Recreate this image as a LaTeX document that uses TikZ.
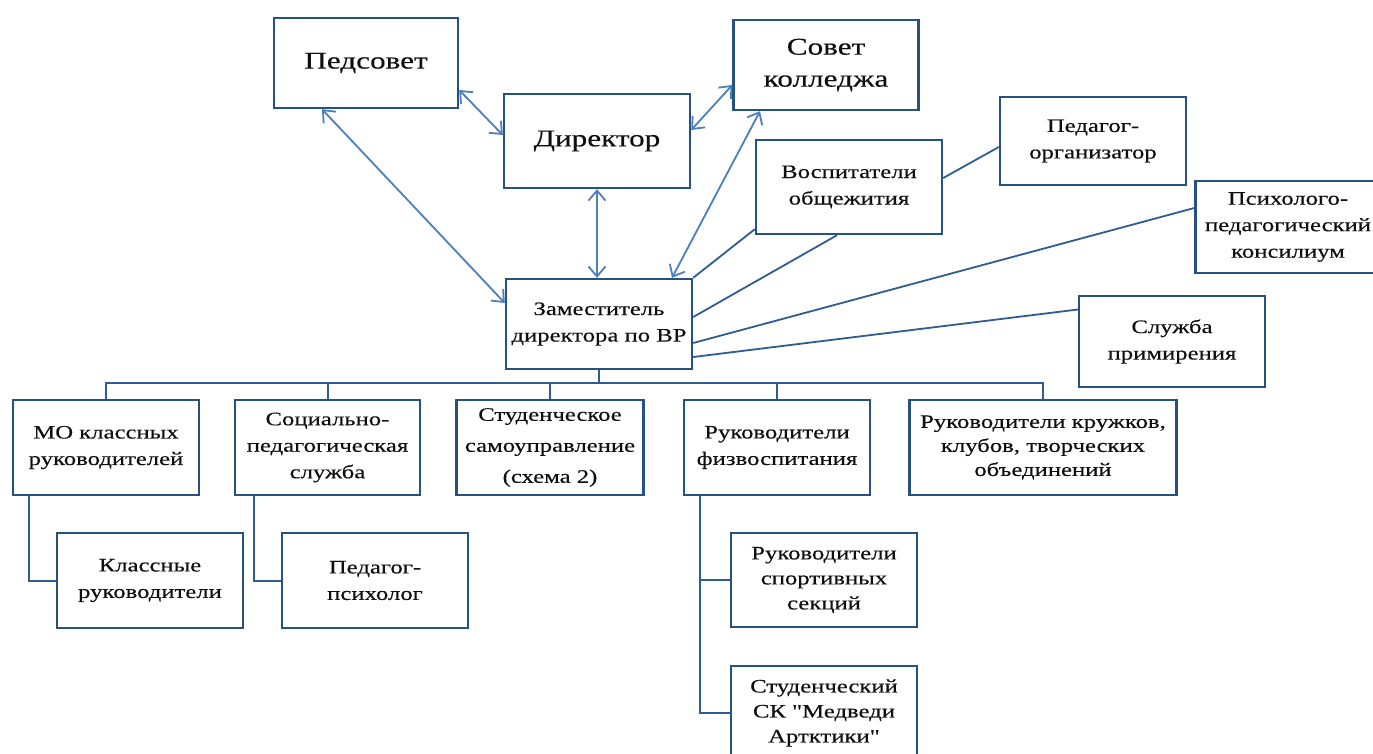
\documentclass[tikz,border=0pt]{standalone}
\usepackage{fontspec}
\setmainfont{Liberation Serif}[FakeStretch=1.3,FakeBold=0.3,Ligatures=TeXOff]
\usetikzlibrary{arrows.meta,calc}
\definecolor{boxc}{RGB}{38,82,130}
\definecolor{linec}{RGB}{75,128,188}
\definecolor{treec}{RGB}{48,92,145}
\definecolor{txt}{RGB}{15,15,15}
\begin{document}
\begin{tikzpicture}[x=1pt,y=-1pt,
  box/.style={draw=boxc,line width=2.4pt,align=center,inner sep=2pt,text=txt,fill=white},
  bigt/.style={font=\fontsize{24}{32}\selectfont},
  smallt/.style={font=\fontsize{19}{26.5}\selectfont},
  arr/.style={draw=linec,line width=1.8pt,{Straight Barb[length=10pt,width=17pt]}-{Straight Barb[length=10pt,width=17pt]}},
  lnk/.style={draw=treec,line width=1.8pt},
  tree/.style={draw=treec,line width=2pt}]
\useasboundingbox (0,0) rectangle (1373,753);
\clip (0,0) rectangle (1373,753);
\fill[white] (0,0) rectangle (1373,753);

% top boxes
\node[box,bigt,minimum width=184,minimum height=90] (ped) at (366,63) {Педсовет};
\node[box,bigt,minimum width=186,minimum height=94] (dir) at (597,141) {Директор};
\node[box,bigt,minimum width=185,minimum height=90] (sov) at (826,65) {Совет\\колледжа};
\node[box,smallt,minimum width=186,minimum height=94] (vos) at (849,187) {Воспитатели\\общежития};
\node[box,smallt,minimum width=186,minimum height=88] (org) at (1093,141) {Педагог-\\организатор};
\node[box,smallt,minimum width=185,minimum height=92] (psy) at (1288,227) {Психолого-\\педагогический\\консилиум};
\node[box,smallt,minimum width=186,minimum height=91] (slu) at (1172,341.5) {Служба\\примирения};
\node[box,smallt,minimum width=186,minimum height=90] (zam) at (599,324) {Заместитель\\директора по ВР};

% bottom row
\node[box,smallt,minimum width=186,minimum height=95] (mo) at (106,447.5) {МО классных\\руководителей};
\node[box,smallt,minimum width=185,minimum height=95] (soc) at (327.5,447.5) {Социально-\\педагогическая\\служба};
\node[box,smallt,minimum width=187,minimum height=95,font=\fontsize{19}{31}\selectfont] (stu) at (550,447.5) {Студенческое\\самоуправление\\(схема 2)};
\node[box,smallt,minimum width=186,minimum height=95] (fiz) at (777,447.5) {Руководители\\физвоспитания};
\node[box,smallt,minimum width=267,minimum height=95,font=\fontsize{19}{24}\selectfont] (kru) at (1043,447.5) {Руководители кружков,\\клубов, творческих\\объединений};

\node[box,smallt,minimum width=186,minimum height=95] (kla) at (150,580.5) {Классные\\руководители};
\node[box,smallt,minimum width=186,minimum height=95] (pps) at (375,580.5) {Педагог-\\психолог};
\node[box,smallt,minimum width=186,minimum height=94,font=\fontsize{19}{25}\selectfont] (spo) at (824,580) {Руководители\\спортивных\\секций};
\node[box,smallt,minimum width=186,minimum height=94,font=\fontsize{19}{25}\selectfont] (sk) at (824,713) {Студенческий\\СК "Медведи\\Артктики"};

% arrows
\draw[arr] ([yshift=-27]ped.east) -- ([yshift=6]dir.west);
\draw[arr] ([yshift=11]dir.east) -- ([yshift=-20]sov.west);
\draw[arr] ([xshift=-44]ped.south) -- ([yshift=21]zam.west);
\draw[arr] (dir.south) -- (dir.south |- zam.north);
\draw[arr] ([xshift=73]zam.north) -- ([xshift=-66]sov.south);

% plain links
\draw[lnk] (zam.north east) -- ([yshift=6]vos.south west);
\draw[lnk] ([yshift=7]zam.east) -- ([xshift=-12]vos.south);
\draw[lnk] ([yshift=-19]zam.east) -- ([yshift=19]psy.west);
\draw[lnk] ([yshift=-33]zam.east) -- ([yshift=32]slu.west);
\draw[lnk] ([yshift=9]vos.east) -- ([yshift=-6]org.west);

% tree bus
\coordinate (bus) at (599,383);
\draw[tree] (zam.south) -- (zam.south |- bus);
\draw[tree] (mo.north) -- (mo.north |- bus) -- (kru.north |- bus) -- (kru.north);
\draw[tree] (soc.north) -- (soc.north |- bus);
\draw[tree] (stu.north) -- (stu.north |- bus);
\draw[tree] (fiz.north) -- (fiz.north |- bus);

% sub branches
\coordinate (mov) at ([xshift=17]mo.south west);
\coordinate (socv) at ([xshift=20]soc.south west);
\coordinate (fizv) at ([xshift=17]fiz.south west);
\draw[tree] (mov) |- (kla.west);
\draw[tree] (socv) |- (pps.west);
\draw[tree] (fizv) |- (sk.west);
\draw[tree] (fizv |- spo.west) -- (spo.west);
\end{tikzpicture}
\end{document}
